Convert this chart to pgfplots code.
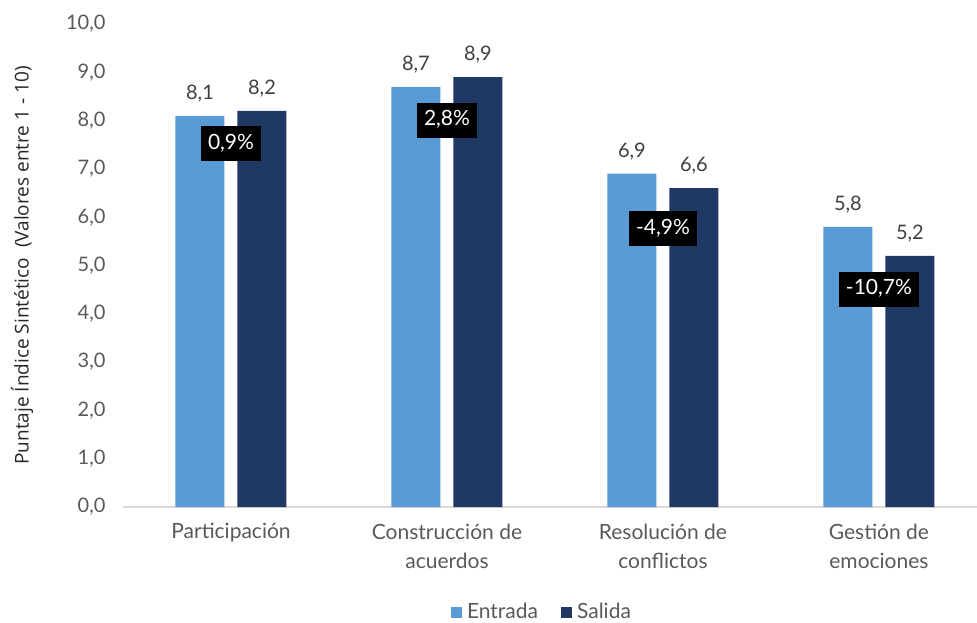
\documentclass[border=0pt]{standalone}
\usepackage{fontspec}
\setmainfont{Lato}
\newfontfamily\labelfont{Open Sans}
\usepackage{pgfplots}
\pgfplotsset{compat=1.18}

\definecolor{entrada}{HTML}{5B9BD5}
\definecolor{salida}{HTML}{203864}
\definecolor{ticktext}{HTML}{595959}
\definecolor{valtext}{HTML}{404040}
\definecolor{axisline}{HTML}{D9D9D9}

\newcommand{\chartfont}{\fontsize{20}{29}\selectfont}
\newcommand{\catfont}{\fontsize{21}{29}\selectfont}

\begin{document}
\begin{tikzpicture}
\path[use as bounding box] (0,0) rectangle (977pt,622pt);
\begin{axis}[
  at={(123pt,115pt)}, anchor=south west,
  scale only axis, width=854pt, height=483pt,
  xmin=-0.5, xmax=3.454, ymin=0, ymax=10,
  axis lines*=left,
  x axis line style={axisline, line width=1.3pt, -},
  y axis line style={draw=none},
  major tick length=0pt,
  xtick={0,1,2,3},
  xticklabels={Participación, {Construcción de\\acuerdos}, {Resolución de\\conflictos}, {Gestión de\\emociones}},
  xticklabel style={align=center, text=ticktext, font=\catfont, yshift=-13pt},
  ytick={0,1,...,10},
  yticklabel style={text=ticktext, font=\chartfont, xshift=-14pt},
  /pgf/number format/.cd, fixed, fixed zerofill, precision=1, use comma, assume math mode=true,
  /pgfplots/.cd,
  legend columns=2,
  legend style={at={(axis description cs:0.4906,-0.2174)}, anchor=center,
    draw=none, fill=none, font=\catfont, text=ticktext,
    /tikz/every odd column/.append style={column sep=3pt},
    /tikz/every even column/.append style={column sep=21pt}},
  legend cell align=left,
  clip=false,
]
% Entrada
\addplot[ybar, bar width=49pt, bar shift=-31pt, fill=entrada, draw=none,
  nodes near coords, point meta=y,
  every node near coord/.append style={text=valtext, font=\chartfont, yshift=10pt, xshift=-31pt},
  legend image code/.code={\fill[entrada] (0pt,-5.5pt) rectangle (11pt,5.5pt);}]
  coordinates {(0,8.1) (1,8.7) (2,6.9) (3,5.8)};
\addlegendentry{Entrada}
% Salida
\addplot[ybar, bar width=49pt, bar shift=31pt, fill=salida, draw=none,
  nodes near coords, point meta=y,
  every node near coord/.append style={text=valtext, font=\chartfont, yshift=10pt, xshift=31pt},
  legend image code/.code={\fill[salida] (0pt,-5.5pt) rectangle (11pt,5.5pt);}]
  coordinates {(0,8.2) (1,8.9) (2,6.6) (3,5.2)};
\addlegendentry{Salida}
% variación porcentual entre entrada y salida
\addplot[draw=none, forget plot, nodes near coords, point meta=explicit symbolic,
  every node near coord/.append style={anchor=center, fill=black, text=white,
    font=\catfont, text height=14pt, text depth=3pt, inner xsep=7pt, inner ysep=9pt}]
  coordinates {(0,7.52) [0,9\%] (1,8.01) [2,8\%] (2,5.76) [-4,9\%] (3,4.51) [-10,7\%]};
\end{axis}
\node[rotate=90, text=black!85, font=\labelfont\fontsize{19}{22}\selectfont]
  at (22pt,356.5pt) {Puntaje Índice Sintético\ \ (Valores entre 1 - 10)};
\end{tikzpicture}
\end{document}
